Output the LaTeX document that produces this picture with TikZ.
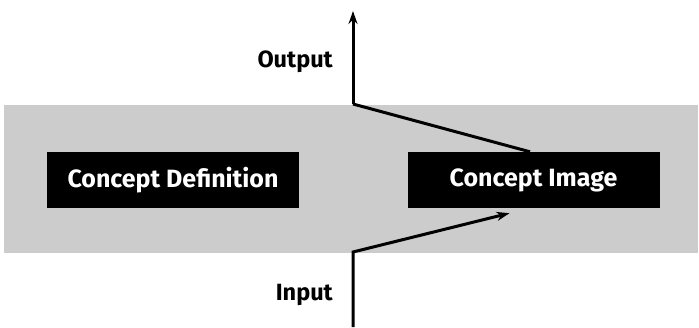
\documentclass[tikz,border=0pt]{standalone}
\usepackage{fontspec}
\setmainfont{Fira Sans}
\newfontfamily\labfont{Fira Sans}
\usetikzlibrary{arrows.meta}
\begin{document}
\begin{tikzpicture}[x=1pt,y=-1pt,
  band/.style={fill=black!20},
  conceptbox/.style={fill=black, text=white, inner sep=0pt, minimum width=252pt, minimum height=56pt,
     font=\labfont\bfseries\fontsize{25}{30}\selectfont},
  lab/.style={inner sep=0pt, font=\labfont\bfseries\fontsize{23.5}{28}\selectfont},
  conn/.style={line width=3pt},
  tip/.style={-{Stealth[length=13pt,width=9pt]}}]
\useasboundingbox (0,0) rectangle (699,327);
\fill[band] (4,105) rectangle (698,253);
\node[conceptbox] (def) at (173,180) {Concept Definition};
\node[conceptbox] (img) at (533.5,180) {Concept Image};
\coordinate (top) at (353,11);
\coordinate (corner) at (353,104);
\coordinate (bot) at (353,327);
\coordinate (inc) at (353,252);
\node[lab, anchor=east] (out) at (333,62) {Output};
\node[lab, anchor=east] (in) at (333,295) {Input};
\draw[conn, tip] (corner) -- (top);
\draw[conn, line join=miter] (corner) -- ([xshift=-3.5pt]img.north);
\draw[conn, tip, line join=miter] (bot) -- (inc) -- ([xshift=-24pt,yshift=-5pt]img.south);
\end{tikzpicture}
\end{document}
